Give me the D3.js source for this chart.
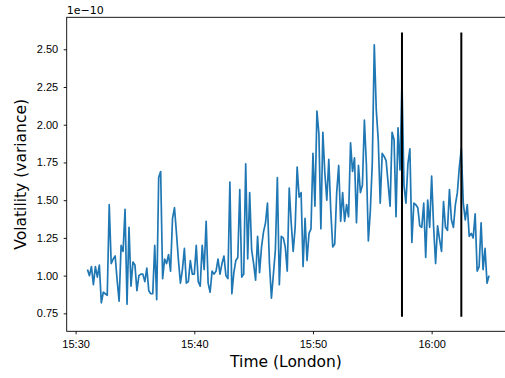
<!DOCTYPE html>
<html>
<head>
<meta charset="utf-8">
<script src="https://cdn.jsdelivr.net/npm/d3@7"></script>
<style>
  html, body { margin: 0; padding: 0; background: #fff; overflow: hidden; }
  svg { display: block; font-family: "DejaVu Sans", sans-serif; }
</style>
</head>
<body>
<svg id="chart" width="505" height="378"></svg>
<script>
// Variância (volatilidade) amostrada a cada 10 s, em unidades de 1e-10.
const START_TIME = "15:31:00";
const STEP_SECONDS = 10;
const VOLATILITY = [
  1.04, 1.00, 1.06, 0.94, 1.06, 0.99, 1.07, 0.82, 0.89, 0.88, 0.87, 1.47, 1.08, 1.11, 1.13, 0.97, 0.83,
  1.20, 1.16, 1.44, 0.81, 1.32, 0.93, 1.09, 1.07, 0.90, 1.00, 1.01, 1.01, 0.96, 1.05, 0.90, 0.88,
  0.88, 1.20, 0.84, 1.65, 1.69, 0.98, 1.11, 1.08, 1.14, 1.03, 1.38, 1.45, 1.28, 1.10, 0.95, 1.04, 1.18,
  0.95, 0.96, 1.10, 1.01, 1.01, 1.20, 0.96, 0.93, 1.20, 1.04, 1.36, 0.95, 0.89, 1.03, 1.01, 1.03, 1.11,
  1.01, 1.08, 1.13, 1.00, 0.98, 1.62, 0.88, 1.02, 1.10, 1.12, 1.57, 0.99, 1.01, 1.74, 1.11, 1.55, 1.17,
  1.08, 0.97, 1.26, 1.02, 1.19, 1.29, 1.35, 1.48, 1.08, 0.85, 1.01, 1.17, 1.65, 0.94, 1.26, 1.25,
  1.19, 1.03, 1.58, 1.35, 1.16, 1.32, 1.72, 1.52, 1.55, 1.06, 1.38, 1.10, 1.28, 1.31, 1.81, 1.46, 2.09,
  1.94, 1.31, 1.95, 1.68, 1.50, 1.77, 1.43, 1.19, 1.21, 1.55, 1.73, 1.36, 1.55, 1.36, 1.47, 1.39,
  1.88, 1.69, 1.78, 1.35, 1.73, 1.55, 1.60, 2.03, 1.74, 1.23, 1.43, 1.75, 2.53, 2.10, 1.90, 1.48, 1.81,
  1.79, 1.76, 1.61, 1.46, 1.95, 1.90, 1.39, 1.98, 1.70, 2.29, 1.60, 1.48, 1.74, 1.84, 1.22, 1.48,
  1.47, 1.45, 1.33, 1.32, 1.48, 1.12, 1.50, 1.32, 1.66, 1.32, 1.08, 1.33, 1.24, 1.16, 1.49, 1.32, 1.30,
  1.57, 1.37, 1.32, 1.47, 1.55, 1.72, 1.84, 1.48, 1.37, 1.47, 1.26, 1.28, 1.25, 1.41, 1.03, 1.06, 1.35,
  1.04, 1.18, 0.95, 1.00
];

// Linhas verticais pretas (eventos) e sua extensão vertical
const EVENT_TIMES = ["15:57:30", "16:02:30"];
const EVENT_RANGE = [0.727, 2.612];

const X_DOMAIN = ["15:29:15", "16:06:26"];
const Y_DOMAIN = [0.631, 2.712];
const X_TICKS = ["15:30", "15:40", "15:50", "16:00"];
const Y_TICKS = [0.75, 1.00, 1.25, 1.50, 1.75, 2.00, 2.25, 2.50];

const parseHMS = d3.timeParse("%H:%M:%S");
const parseHM = d3.timeParse("%H:%M");

const t0 = parseHMS(START_TIME);
const series = VOLATILITY.map((v, i) => ({
  time: new Date(t0.getTime() + i * STEP_SECONDS * 1000),
  value: v,
}));

const svg = d3.select("#chart");
// a figura original é cortada à direita: a borda direita fica fora da imagem
const plot = { left: 66.7, top: 17.3, right: 508, bottom: 331.3 };

const x = d3.scaleTime().domain(X_DOMAIN.map(parseHMS)).range([plot.left, plot.right]);
const y = d3.scaleLinear().domain(Y_DOMAIN).range([plot.bottom, plot.top]);

// Eixos no estilo matplotlib
const xAxis = svg.append("g")
  .attr("transform", `translate(0,${plot.bottom})`)
  .call(d3.axisBottom(x).tickValues(X_TICKS.map(parseHM)).tickFormat(d3.timeFormat("%H:%M"))
    .tickSizeInner(3).tickSizeOuter(0).tickPadding(6));
const yAxis = svg.append("g")
  .attr("transform", `translate(${plot.left},0)`)
  .call(d3.axisLeft(y).tickValues(Y_TICKS).tickFormat(d3.format(".2f"))
    .tickSizeInner(3).tickSizeOuter(0).tickPadding(5.5));

[xAxis, yAxis].forEach((a) => {
  a.select(".domain").remove();
  a.selectAll("line").attr("stroke", "#000").attr("stroke-width", 0.9);
  a.selectAll("text").style("font-size", "11px").attr("fill", "#000");
});

// Linha da série
const line = d3.line().x((d) => x(d.time)).y((d) => y(d.value));
svg.append("path").datum(series)
  .attr("fill", "none").attr("stroke", "#1f77b4")
  .attr("stroke-width", 1.7).attr("stroke-linejoin", "round")
  .attr("d", line);

// Linhas verticais de evento
svg.selectAll(null).data(EVENT_TIMES).enter().append("line")
  .attr("x1", (d) => x(parseHMS(d))).attr("x2", (d) => x(parseHMS(d)))
  .attr("y1", y(EVENT_RANGE[0])).attr("y2", y(EVENT_RANGE[1]))
  .attr("stroke", "#000").attr("stroke-width", 2);

// Molduras (spines)
svg.append("rect")
  .attr("x", plot.left).attr("y", plot.top)
  .attr("width", plot.right - plot.left).attr("height", plot.bottom - plot.top)
  .attr("fill", "none").attr("stroke", "#000").attr("stroke-width", 0.9);

// Textos
svg.append("text").attr("x", plot.left).attr("y", 14)
  .style("font-size", "11px").text("1e\u221210");

svg.append("text")
  .attr("x", 286).attr("y", 367)
  .attr("text-anchor", "middle").style("font-size", "15.5px")
  .text("Time (London)");

svg.append("text")
  .attr("transform", `translate(26,${(plot.top + plot.bottom) / 2}) rotate(-90)`)
  .attr("text-anchor", "middle").style("font-size", "15.5px")
  .text("Volatility (variance)");
</script>
</body>
</html>
